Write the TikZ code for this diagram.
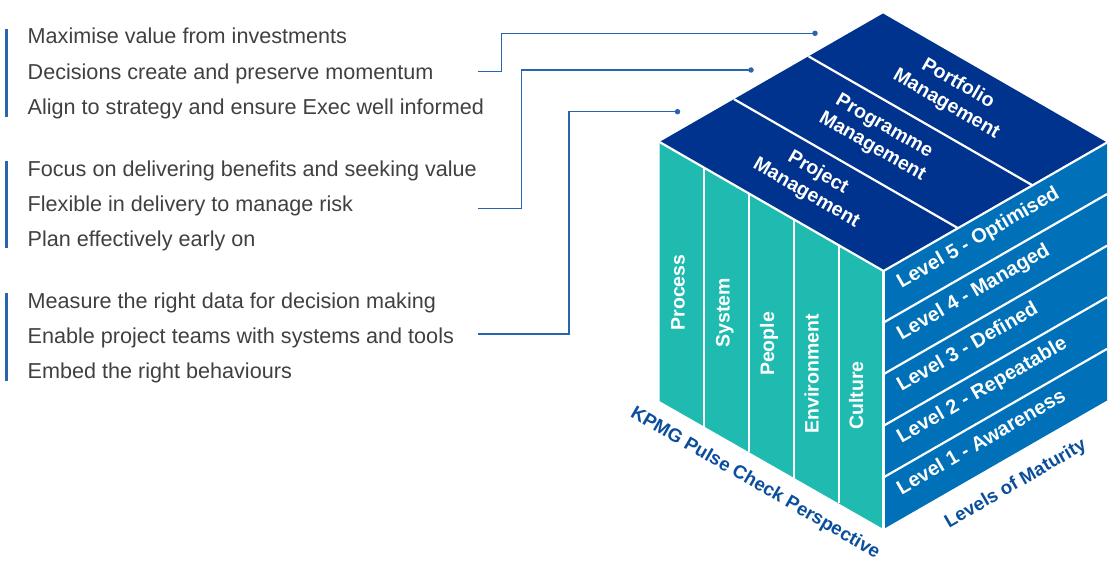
\documentclass[tikz,border=0pt]{standalone}
\usepackage{fontspec}
\setmainfont{Liberation Sans}
\usetikzlibrary{calc}
\definecolor{topblue}{HTML}{00338D}
\definecolor{sideblue}{HTML}{0071B9}
\definecolor{kteal}{HTML}{1FBBB1}
\definecolor{labelblue}{HTML}{0B4F9C}
\definecolor{linkblue}{HTML}{2A64AC}
\definecolor{bodygray}{HTML}{404040}
\begin{document}
\begin{tikzpicture}[x=1pt,y=-1pt,
  bodytext/.style={anchor=base west, inner sep=0, text=bodygray, font=\fontsize{21.6}{25}\selectfont},
  bar/.style={draw=linkblue, line width=2.4pt},
  link/.style={draw=linkblue, line width=1.3pt},
  dot/.style={circle, fill=linkblue, inner sep=0, minimum size=5.5pt},
  sep/.style={draw=white, line width=2.2pt},
  toplabel/.style={text=white, font=\bfseries\fontsize{19.5}{23.5}\selectfont, align=center, rotate=-30, inner sep=0},
  levellabel/.style={text=white, font=\bfseries\fontsize{20}{23}\selectfont, anchor=base west, rotate=30, inner sep=0},
  dimlabel/.style={text=white, font=\bfseries\fontsize{19.5}{22}\selectfont, anchor=base, rotate=90, inner sep=0},
  axislabel/.style={text=labelblue, font=\bfseries\fontsize{18.8}{22}\selectfont, inner sep=0}
]
\useasboundingbox (0,0) rectangle (1108,575);

% cube corners
\coordinate (T)  at (883,13.5);
\coordinate (L)  at (659.5,142);
\coordinate (F)  at (883.5,271);
\coordinate (R)  at (1107,142.5);
\coordinate (LB) at (659.5,401);
\coordinate (FB) at (883.5,529);
\coordinate (RB) at (1107,400.5);

% faces
\fill[topblue]  (T) -- (R) -- (F) -- (L) -- cycle;
\fill[kteal]    (L) -- (F) -- (FB) -- (LB) -- cycle;
\fill[sideblue] (F) -- (R) -- (RB) -- (FB) -- cycle;

% separators
\foreach \k in {1,2}
  \draw[sep] ($(T)!\k/3!(L)$) -- ($(R)!\k/3!(F)$);
\foreach \k in {1,2,3,4}
  \draw[sep] ($(L)!\k/5!(F)$) -- ($(LB)!\k/5!(FB)$);
\foreach \k in {1,2,3,4}
  \draw[sep] ($(F)!\k/5!(FB)$) -- ($(R)!\k/5!(RB)$);
\draw[sep] (L) -- (F) -- (R);
\draw[sep] (F) -- (FB);

% top face labels
\node[toplabel] (port) at (952,94)  {Portfolio\\Management};
\node[toplabel] (prog) at (878,137) {Programme\\Management};
\node[toplabel] (proj) at (812,183) {Project\\Management};

% left face labels
\node[dimlabel] (dproc) at (684.5,292.5) {Process};
\node[dimlabel] (dsys)  at (729.5,313)   {System};
\node[dimlabel] (dpeo)  at (774,344) {People};
\node[dimlabel] (denv)  at (818.5,374)   {Environment};
\node[dimlabel] (dcul)  at (863,395.5) {Culture};

% right face labels
\node[levellabel] (lv5) at (901.5,288.8) {Level 5 - Optimised};
\node[levellabel] (lv4) at (901.5,340.4) {Level 4 - Managed};
\node[levellabel] (lv3) at (901.5,392)   {Level 3 - Defined};
\node[levellabel] (lv2) at (901.5,443.6) {Level 2 - Repeatable};
\node[levellabel] (lv1) at (901.5,495.2) {Level 1 - Awareness};

% axis labels
\node[axislabel, rotate=-30] (persp) at (755,483.3) {KPMG Pulse Check Perspective};
\node[axislabel, rotate=30]  (matur) at (1015.8,484.2) {Levels of Maturity};

% left text groups
\draw[bar] (6.5,29) -- (6.5,117);
\draw[bar] (6.5,161) -- (6.5,248);
\draw[bar] (6.5,293) -- (6.5,381);

\node[bodytext] (p1) at (27.5,44)    {Maximise value from investments};
\node[bodytext] (p2) at (27.5,79.3)  {Decisions create and preserve momentum};
\node[bodytext] (p3) at (27.5,114.3) {Align to strategy and ensure Exec well informed};

\node[bodytext] (g1) at (27.5,176)   {Focus on delivering benefits and seeking value};
\node[bodytext] (g2) at (27.5,211.3) {Flexible in delivery to manage risk};
\node[bodytext] (g3) at (27.5,246.7) {Plan effectively early on};

\node[bodytext] (j1) at (27.5,308.3) {Measure the right data for decision making};
\node[bodytext] (j2) at (27.5,343.3) {Enable project teams with systems and tools};
\node[bodytext] (j3) at (27.5,378.3) {Embed the right behaviours};

% connectors
\coordinate (s1) at (478,71.7);
\coordinate (s2) at (478,208.3);
\coordinate (s3) at (478,334);
\node[dot] (d1) at (815,33.3) {};
\node[dot] (d2) at (751,70) {};
\node[dot] (d3) at (677.5,111.7) {};
\draw[link] (s1) -- (501.7,71.7) |- (d1.center);
\draw[link] (s2) -- (521.7,208.3) |- (d2.center);
\draw[link] (s3) -- (569,334) |- (d3.center);
\end{tikzpicture}
\end{document}
